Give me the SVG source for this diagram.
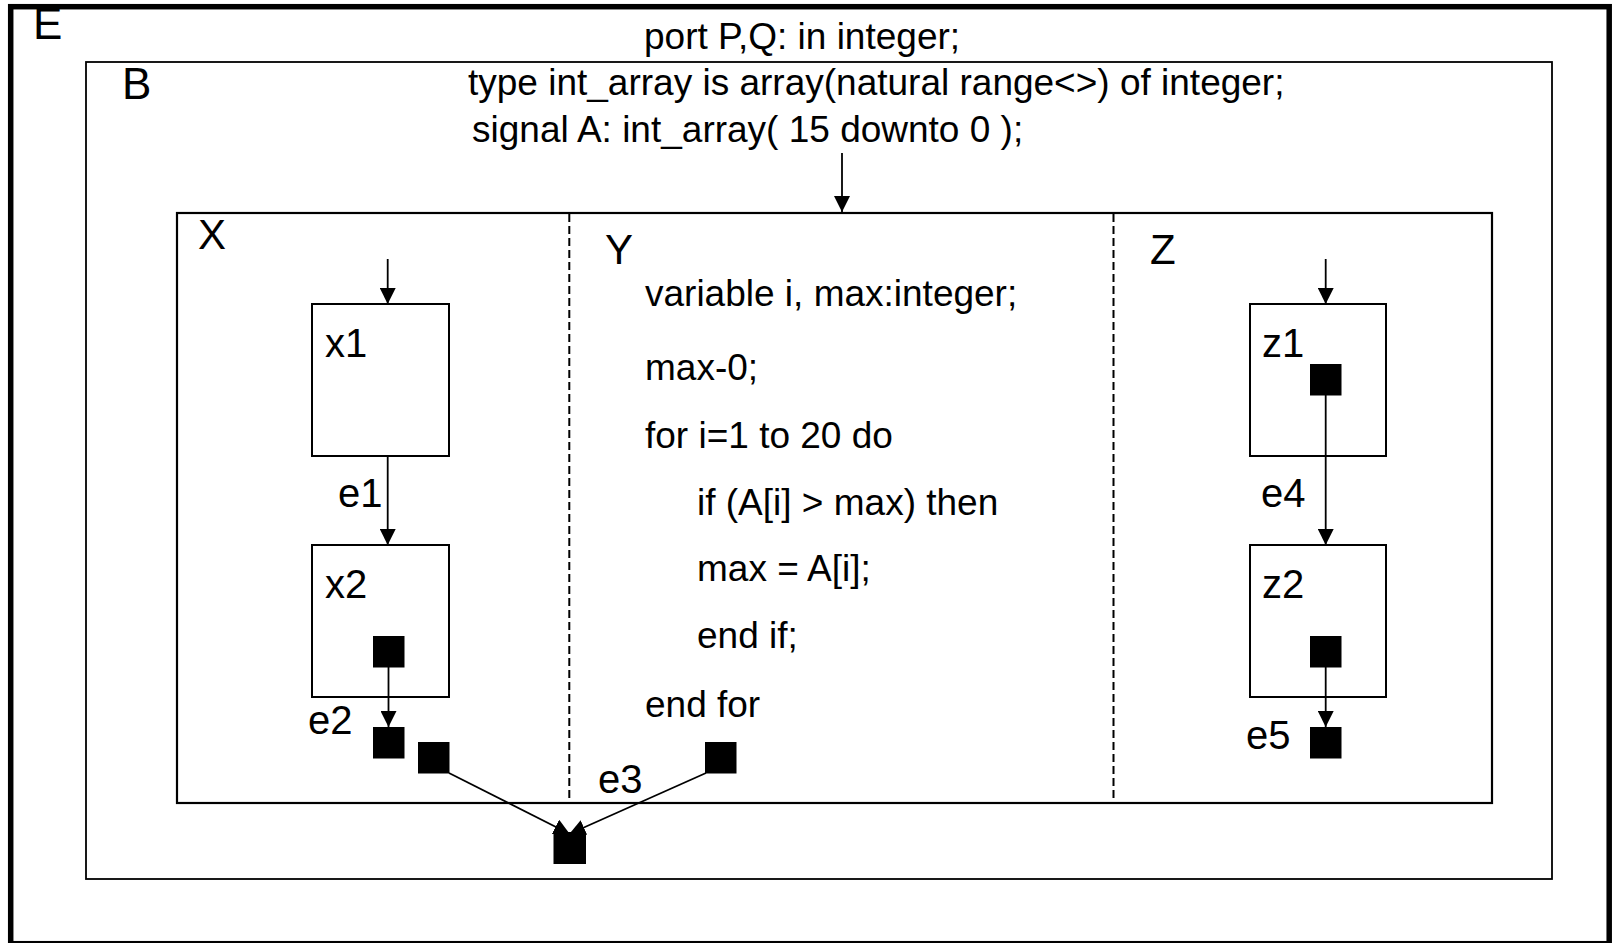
<svg xmlns="http://www.w3.org/2000/svg" width="1612" height="943" viewBox="0 0 1612 943">
<defs>
<style>
text{font-family:"Liberation Sans",Arial,sans-serif;font-size:37px;fill:#000}
.big{font-size:44px}
.lbl{font-size:42px}
.sm{font-size:40px}
.box{fill:#fff;stroke:#000;stroke-width:2}
.sq{fill:#000}
.con{stroke:#000;stroke-width:1.8;fill:none}
.dash{stroke:#000;stroke-width:2;stroke-dasharray:8 4;fill:none}
</style>
<marker id="ah" markerUnits="userSpaceOnUse" markerWidth="16" markerHeight="16" refX="15" refY="7.5" orient="auto" viewBox="0 0 15 15">
<path d="M0,0 L15,7.5 L0,15 z" fill="#000"/>
</marker>
</defs>
<rect x="0" y="0" width="1612" height="943" fill="#fff"/>
<g id="E">
<rect x="10.7" y="6.7" width="1598.5" height="937" fill="none" stroke="#000" stroke-width="5.5"/>
<text class="big" x="33" y="39">E</text>
<text x="644" y="49">port P,Q: in integer;</text>
</g>
<g id="B">
<rect x="86" y="62" width="1466" height="817" fill="none" stroke="#000" stroke-width="1.8"/>
<text class="big" x="122" y="99">B</text>
<text x="468" y="95">type int_array is array(natural range&lt;&gt;) of integer;</text>
<text x="472" y="142">signal A: int_array( 15 downto 0 );</text>
</g>
<g id="XYZ">
<rect x="177" y="213" width="1315" height="590" fill="none" stroke="#000" stroke-width="2.2"/>
<line class="dash" x1="569.3" y1="214" x2="569.3" y2="802"/>
<line class="dash" x1="1113.5" y1="214" x2="1113.5" y2="802"/>
</g>
<g id="X">
<text class="lbl" x="198" y="249">X</text>
</g>
<g id="Y">
<text class="lbl" x="605" y="264">Y</text>
<text x="645" y="306">variable i, max:integer;</text>
<text x="645" y="380">max-0;</text>
<text x="645" y="448">for i=1 to 20 do</text>
<text x="697" y="515">if (A[i] &gt; max) then</text>
<text x="697" y="581">max = A[i];</text>
<text x="697" y="648">end if;</text>
<text x="645" y="717">end for</text>
</g>
<g id="Z">
<text class="lbl" x="1150" y="264">Z</text>
</g>
<g id="x1">
<rect class="box" x="312" y="304" width="137" height="152"/>
<text class="sm" x="325" y="357">x1</text>
</g>
<g id="x2">
<rect class="box" x="312" y="545" width="137" height="152"/>
<text class="sm" x="325" y="598">x2</text>
<rect class="sq" x="373" y="636" width="31.5" height="31.5"/>
</g>
<g id="z1">
<rect class="box" x="1250" y="304" width="136" height="152"/>
<text class="sm" x="1262" y="357">z1</text>
<rect class="sq" x="1310" y="364" width="31.5" height="31.5"/>
</g>
<g id="z2">
<rect class="box" x="1250" y="545" width="136" height="152"/>
<text class="sm" x="1262" y="598">z2</text>
<rect class="sq" x="1310" y="636" width="31.5" height="31.5"/>
</g>
<g id="e2">
<rect class="sq" x="373" y="727" width="31.5" height="31.5"/>
<text class="sm" x="308" y="734">e2</text>
</g>
<g id="e3src1">
<rect class="sq" x="418" y="742" width="31.5" height="31.5"/>
</g>
<g id="e3src2">
<rect class="sq" x="705" y="742" width="31.5" height="31.5"/>
</g>
<g id="e3">
<rect class="sq" x="553.5" y="832" width="32.5" height="32"/>
<text class="sm" x="598" y="793">e3</text>
</g>
<g id="e5">
<rect class="sq" x="1310" y="727" width="31.5" height="31.5"/>
<text class="sm" x="1246" y="749">e5</text>
</g>
<g id="connectors">
<line class="con" x1="842" y1="153" x2="842" y2="212" marker-end="url(#ah)"/>
<line class="con" x1="387.7" y1="259" x2="387.7" y2="304" marker-end="url(#ah)"/>
<line class="con" x1="387.7" y1="456" x2="387.7" y2="545" marker-end="url(#ah)"/>
<text class="sm" x="338" y="507">e1</text>
<line class="con" x1="388.5" y1="667" x2="388.5" y2="727" marker-end="url(#ah)"/>
<line class="con" x1="449" y1="773" x2="569.8" y2="834" marker-end="url(#ah)"/>
<line class="con" x1="706" y1="773" x2="569.3" y2="834" marker-end="url(#ah)"/>
<line class="con" x1="1325.7" y1="259" x2="1325.7" y2="304" marker-end="url(#ah)"/>
<line class="con" x1="1325.7" y1="395" x2="1325.7" y2="545" marker-end="url(#ah)"/>
<text class="sm" x="1261" y="507">e4</text>
<line class="con" x1="1325.7" y1="667" x2="1325.7" y2="727" marker-end="url(#ah)"/>
</g>
</svg>
